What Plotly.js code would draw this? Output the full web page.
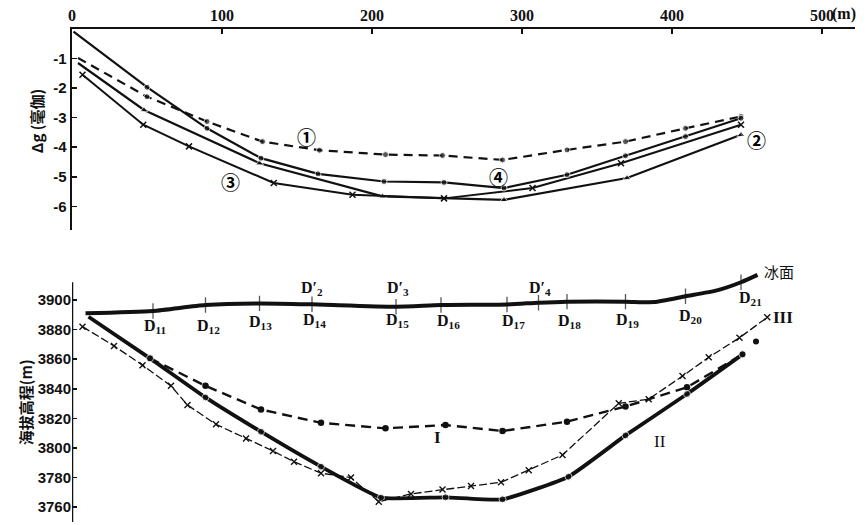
<!DOCTYPE html>
<html><head><meta charset="utf-8">
<script src="https://cdn.plot.ly/plotly-3.0.1.min.js"></script>
<style>html,body{margin:0;padding:0;background:#fff}#chart{width:868px;height:525px}</style>
</head><body><div id="chart"></div>
<script>
// ---- top panel (gravity anomaly, mGal) ----
const xTopTicks = [0, 100, 200, 300, 400, 500];
const xTopTickText = ['0', '100', '200', '300', '400', '500'];
const yTopTicks = [-1, -2, -3, -4, -5, -6];
const yTopTickText = ['-1', '-2', '-3', '-4', '-5', '-6'];

const c1X = [4, 50, 90, 127, 165, 209, 247, 287, 330, 369, 409, 446];
const c1Y = [-0.98, -2.29, -3.13, -3.81, -4.10, -4.25, -4.28, -4.43, -4.09, -3.81, -3.36, -2.96];
const c2X = [4, 48, 125, 207, 288, 370, 446];
const c2Y = [-1.15, -2.74, -4.54, -5.66, -5.78, -5.04, -3.58];
const c3X = [7, 47.5, 78, 134.5, 187, 248, 307, 366, 446];
const c3Y = [-1.55, -3.24, -3.97, -5.21, -5.61, -5.73, -5.38, -4.54, -3.24];
const c4X = [1, 50, 90, 126, 164, 208, 248, 288, 330, 369, 409, 446];
const c4Y = [-0.09, -1.97, -3.36, -4.37, -4.90, -5.16, -5.19, -5.38, -4.93, -4.29, -3.64, -3.02];

// ---- bottom panel (elevation, m) ----
const yBotTicks = [3760, 3780, 3800, 3820, 3840, 3860, 3880, 3900];
const surfX = [9, 54, 89, 125, 160, 216, 246, 290, 311, 330, 369, 388, 409, 430, 446, 457];
const surfV = [3891, 3892.6, 3896.6, 3897.7, 3897.1, 3895.5, 3896.6, 3897, 3898.2, 3898.9, 3898.9, 3898.6, 3902.5, 3906.5, 3912, 3917];
const tickStations = [54, 89, 125, 160, 216, 246, 290, 311, 330, 369, 409, 446];
const stationNames = ['D<sub>11</sub>', 'D<sub>12</sub>', 'D<sub>13</sub>', 'D<sub>14</sub>', 'D<sub>15</sub>', 'D<sub>16</sub>', 'D<sub>17</sub>', 'D<sub>18</sub>', 'D<sub>19</sub>', 'D<sub>20</sub>', 'D<sub>21</sub>'];
const primeNames = ['D′<sub>2</sub>', 'D′<sub>3</sub>', 'D′<sub>4</sub>', 'D′<sub>5</sub>'];

const sIX = [52, 89, 126, 166, 209, 249, 287, 330, 369, 410, 447];
const sIV = [3860.6, 3842, 3826, 3817, 3813.3, 3815.5, 3811.5, 3817.8, 3828, 3841, 3863.3];
const sIIX = [11, 52, 89, 126, 166, 206, 249, 287, 331, 369, 410, 447];
const sIIV = [3888.7, 3860.6, 3834.2, 3811, 3787.4, 3766.5, 3766.7, 3765.3, 3780.6, 3808.5, 3836.5, 3863.3];
const loneX = [456];
const loneV = [3872];
const sIIIX = [7, 28, 47, 66, 77, 96, 116, 134, 148, 166, 186, 204.5, 226, 247, 266, 286, 304.5, 327, 364.5, 384.5, 407, 424.5, 445, 463.5];
const sIIIV = [3882, 3869, 3856, 3842, 3829, 3816, 3806.5, 3798, 3790.7, 3783, 3780, 3763.7, 3769, 3772, 3774.3, 3776.8, 3785, 3795.3, 3830.2, 3833, 3848.6, 3861.3, 3874.5, 3888.3];

const K = '#111';
const firstHidden = (arr, s) => arr.map((_, i) => i === 0 ? 0 : s);

const traces = [
  {x: c1X, y: c1Y, xaxis: 'x', yaxis: 'y', mode: 'lines+markers',
   line: {color: K, width: 2.2, dash: '9px,6px'}, marker: {color: K, size: firstHidden(c1X, 6)}},
  {x: c2X, y: c2Y, xaxis: 'x', yaxis: 'y', mode: 'lines+markers',
   line: {color: K, width: 2.2}, marker: {color: K, size: firstHidden(c2X, 7), symbol: 'triangle-up'}},
  {x: c3X, y: c3Y, xaxis: 'x', yaxis: 'y', mode: 'lines+markers',
   line: {color: K, width: 2}, marker: {color: K, size: 6, symbol: 'x-thin-open', line: {color: K, width: 1.5}}},
  {x: c4X, y: c4Y, xaxis: 'x', yaxis: 'y', mode: 'lines+markers',
   line: {color: K, width: 2.2}, marker: {color: K, size: firstHidden(c4X, 6)}},

  {x: surfX, y: surfV, xaxis: 'x2', yaxis: 'y2', mode: 'lines+markers',
   line: {color: K, width: 4, shape: 'spline', smoothing: 0.6},
   marker: {symbol: 'line-ns-open', color: K, line: {color: K, width: 1.3},
            size: surfX.map(v => tickStations.includes(v) ? 11 : 0)}},
  {x: sIX, y: sIV, xaxis: 'x2', yaxis: 'y2', mode: 'lines+markers',
   line: {color: K, width: 2.4, dash: '10px,6px'}, marker: {color: K, size: 6.5}},
  {x: sIIX, y: sIIV, xaxis: 'x2', yaxis: 'y2', mode: 'lines+markers',
   line: {color: K, width: 3.8, shape: 'spline', smoothing: 0.4}, marker: {color: K, size: firstHidden(sIIX, 7)}},
  {x: loneX, y: loneV, xaxis: 'x2', yaxis: 'y2', mode: 'markers', marker: {color: K, size: 6}},
  {x: sIIIX, y: sIIIV, xaxis: 'x2', yaxis: 'y2', mode: 'lines+markers',
   line: {color: K, width: 1.3, dash: '8px,3px'}, marker: {color: K, size: 6, symbol: 'x-thin-open', line: {color: K, width: 1.4}}}
];

const serif = {family: 'Liberation Serif, DejaVu Serif, serif', size: 17, color: K};
const cjk = {family: 'Noto Sans CJK SC, sans-serif', size: 15, color: K};
const ann = [];
const add = (o) => ann.push(Object.assign({showarrow: false}, o));

// axis titles
add({xref: 'paper', yref: 'paper', x: -0.046, xanchor: 'center', y: 0.813, yanchor: 'middle', text: '<b>Δg (毫伽)</b>', textangle: -90, font: cjk});
add({xref: 'paper', yref: 'paper', x: -0.060, xanchor: 'center', y: 0.243, yanchor: 'middle', text: '<b>海拔高程(m)</b>', textangle: -90, font: cjk});
add({xref: 'x', yref: 'paper', x: 500, xanchor: 'left', xshift: 8, y: 1, yanchor: 'bottom', yshift: 4, text: '<b>(m)</b>', font: {family: 'Liberation Serif, serif', size: 16, color: K}});

// curve labels, top
const circ = {family: 'Noto Sans CJK SC, sans-serif', size: 19, color: '#000'};
add({xref: 'x', yref: 'y', x: 156, y: -3.62, text: '<b>①</b>', font: circ});
add({xref: 'x', yref: 'y', x: 456, y: -3.75, text: '<b>②</b>', font: circ});
add({xref: 'x', yref: 'y', x: 105.7, y: -5.17, text: '<b>③</b>', font: circ});
add({xref: 'x', yref: 'y', x: 284.3, y: -5.0, text: '<b>④</b>', font: circ});

// curve labels, bottom
add({xref: 'x2', yref: 'y2', x: 243.7, y: 3807.4, text: '<b>I</b>', font: serif});
add({xref: 'x2', yref: 'y2', x: 392.3, y: 3804.7, text: 'II', font: serif});
add({xref: 'x2', yref: 'y2', x: 474, y: 3888.5, text: '<b>III</b>', font: serif});
add({xref: 'x2', yref: 'y2', x: 471, y: 3919.6, text: '冰面', font: {family: 'Noto Sans CJK SC, sans-serif', size: 15, color: K}});

// station labels
const stLabX = [55.7, 91, 125.7, 161.7, 217, 251, 294.3, 331.7, 370.3, 412.3, 452.3];
const stLabV = [3882.4, 3882.4, 3884.5, 3886.5, 3886.5, 3885.8, 3885.8, 3885.8, 3886.5, 3889.2, 3900.7];
stationNames.forEach((t, i) => add({xref: 'x2', yref: 'y2', x: stLabX[i], y: stLabV[i], text: '<b>' + t + '</b>',
  font: {family: 'Liberation Serif, serif', size: 16, color: K}}));
const prLabX = [159.7, 217, 312.3, 451];
const prLabV = [3907.5, 3907.5, 3907.5, 3923.5];
primeNames.forEach((t, i) => add({xref: 'x2', yref: 'y2', x: prLabX[i], y: prLabV[i], text: '<b>' + t + '</b>',
  font: {family: 'Liberation Serif, serif', size: 16, color: K}}));

const tickFontX = {family: 'Liberation Serif, serif', size: 16, color: K};
const tickFontY = {family: 'Liberation Sans, Arial, sans-serif', size: 15, color: K};

const layout = {
  width: 868, height: 525,
  margin: {l: 72, r: 13, t: 29, b: 3, pad: 0},
  paper_bgcolor: '#fff', plot_bgcolor: '#fff',
  showlegend: false,
  xaxis: {domain: [0, 1], range: [0, 522], side: 'top', anchor: 'y', showgrid: false, zeroline: false,
          showline: true, linecolor: K, linewidth: 2, ticks: 'inside', ticklen: 5, tickwidth: 1.5, tickcolor: K,
          tickvals: xTopTicks, ticktext: xTopTickText.map(t => '<b>' + t + '</b>'), tickfont: tickFontX, automargin: false},
  yaxis: {domain: [0.5923, 1], range: [-6.8, 0], anchor: 'x', showgrid: false, zeroline: false,
          showline: true, linecolor: K, linewidth: 2.5, ticks: 'inside', ticklen: 5, tickwidth: 1.5, tickcolor: K,
          tickvals: yTopTicks, ticktext: yTopTickText.map(t => '<b>' + t + '</b>'), tickfont: tickFontY, automargin: false},
  xaxis2: {domain: [0, 1], range: [0, 522], anchor: 'y2', visible: false},
  yaxis2: {domain: [0, 0.5103], range: [3750, 3920], anchor: 'x2', showgrid: false, zeroline: false,
           showline: false, ticks: 'inside', ticklen: 5, tickwidth: 1.5, tickcolor: K,
           tickvals: yBotTicks, ticktext: yBotTicks.map(t => '<b>' + t + '</b>'), tickfont: tickFontY, automargin: false},
  shapes: [{type: 'line', xref: 'x2', yref: 'y2', x0: 0, x1: 0, y0: 3750, y1: 3912, line: {color: K, width: 2.5}}],
  annotations: ann
};

Plotly.newPlot('chart', traces, layout, {staticPlot: true, displayModeBar: false});
</script>
</body></html>
